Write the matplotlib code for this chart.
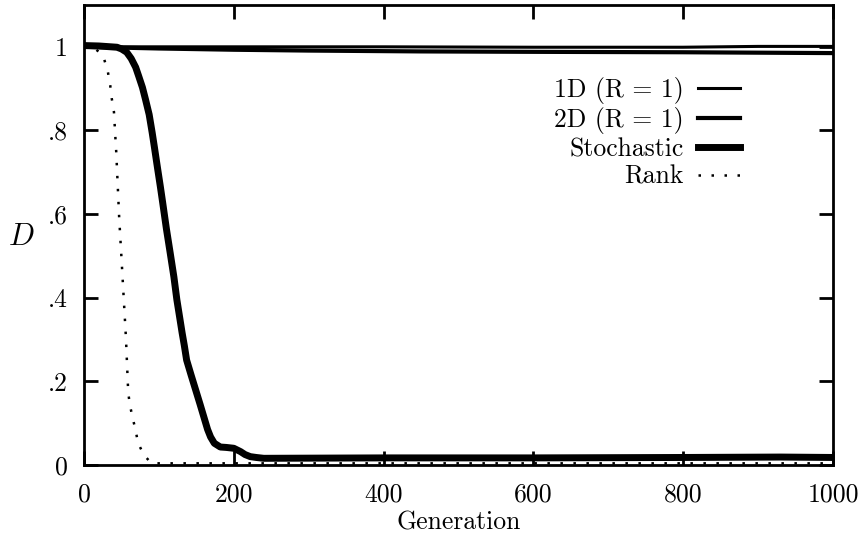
import numpy as np
import matplotlib
matplotlib.use("Agg")
import matplotlib.pyplot as plt

plt.rcParams['font.family'] = ['cmr10', 'DejaVu Serif']
plt.rcParams['mathtext.fontset'] = 'cm'
plt.rcParams['axes.formatter.use_mathtext'] = True

# values
gen_1d = [0, 200, 400, 600, 800, 900, 1000]
d_1d = [1.0, 1.0, 1.0, 0.999, 0.999, 1.001, 1.001]

gen_2d = [0, 100, 200, 300, 450, 600, 800, 1000]
d_2d = [1.0, 0.996, 0.993, 0.991, 0.989, 0.988, 0.987, 0.985]

gen_st = [0, 20, 44, 50, 57, 63, 69, 73, 78, 82, 87, 91, 94, 98, 102, 105,
          110, 115, 120, 124, 128, 131, 134, 137, 143, 149, 155, 160, 165,
          169, 174, 182, 190, 200, 209, 215, 222, 230, 240, 400, 600, 800,
          930, 1000]
d_st = [1.003, 1.002, 0.999, 0.995, 0.987, 0.972, 0.951, 0.93, 0.903, 0.875,
        0.838, 0.795, 0.76, 0.712, 0.665, 0.628, 0.565, 0.508, 0.45, 0.395,
        0.35, 0.316, 0.285, 0.251, 0.215, 0.18, 0.145, 0.115, 0.085, 0.067,
        0.052, 0.043, 0.042, 0.04, 0.032, 0.025, 0.02, 0.018, 0.016, 0.017,
        0.017, 0.018, 0.019, 0.018]

gen_rk = [0, 15, 22, 27, 32, 35, 37, 40, 42, 43, 47, 50, 53, 56, 59, 61, 65,
          69, 72, 80, 90, 1000]
d_rk = [1.0, 0.995, 0.985, 0.97, 0.939, 0.908, 0.877, 0.844, 0.78, 0.75, 0.59,
        0.496, 0.40, 0.304, 0.175, 0.146, 0.112, 0.083, 0.053, 0.024, 0.004,
        0.004]

xticks = [0, 200, 400, 600, 800, 1000]
yticks = [0, 0.2, 0.4, 0.6, 0.8, 1.0]
ylabels = ['0', '.2', '.4', '.6', '.8', '1']

fig = plt.figure(figsize=(8.62, 5.35), dpi=100)
ax = fig.add_axes([84 / 862, 70 / 535, 749 / 862, 460 / 535])

ax.plot(gen_1d, d_1d, color='k', lw=2.2, label='1D (R = 1)')
ax.plot(gen_2d, d_2d, color='k', lw=3.0, label='2D (R = 1)')
ax.plot(gen_st, d_st, color='k', lw=5.0, label='Stochastic',
        solid_joinstyle='round')
ax.plot(gen_rk, d_rk, color='k', lw=1.8, ls=(0, (1, 4.2)),
        dash_capstyle='butt', label='Rank')

ax.set_xlim(0, 1000)
ax.set_ylim(0, 1.1)
ax.set_xticks(xticks)
ax.set_xticklabels([str(v) for v in xticks])
ax.set_yticks(yticks)
ax.set_yticklabels(ylabels)
ax.tick_params(direction='in', length=10, width=2, top=True, right=True,
               labelsize=18.5, color='k')
ax.tick_params(axis='y', pad=11.5)
ax.tick_params(axis='x', pad=13)
for sp in ax.spines.values():
    sp.set_linewidth(2)

ax.set_xlabel('Generation', fontsize=18.5, labelpad=3)
ax.set_ylabel(r'$D$', fontsize=22, rotation=0, ha='center', va='center')
ax.yaxis.set_label_coords(-0.084, 0.496)

ax.legend(loc='upper right', bbox_to_anchor=(0.876, 0.844), frameon=False,
          markerfirst=False, fontsize=18.5, handlelength=1.63,
          handletextpad=0.58, labelspacing=0.135, borderpad=0,
          borderaxespad=0)

fig.savefig('out.png', dpi=100)
